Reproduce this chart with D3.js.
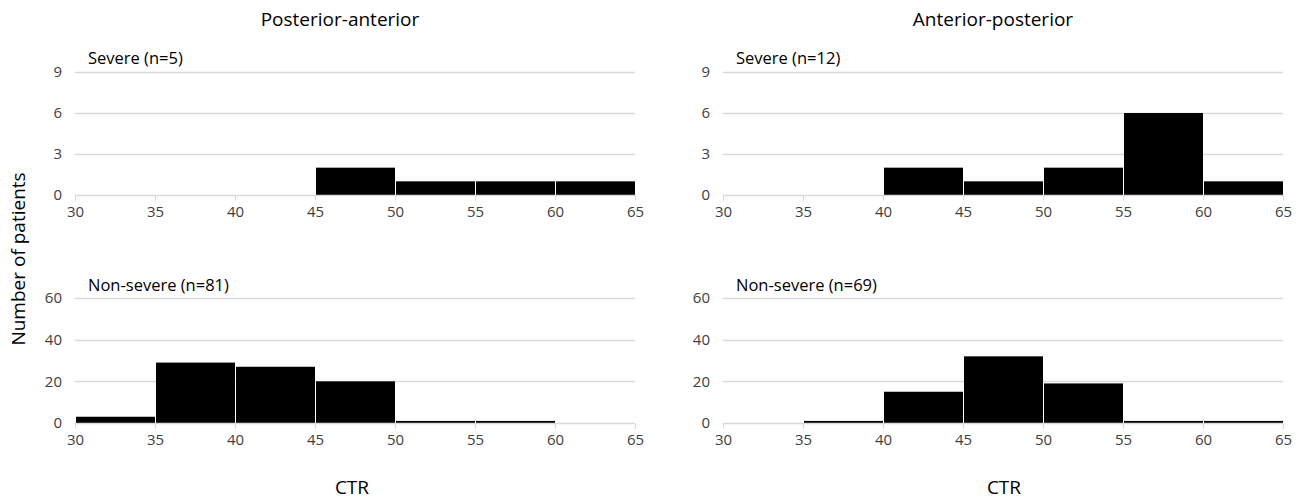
<!DOCTYPE html>
<html>
<head>
<meta charset="utf-8">
<script src="https://cdn.jsdelivr.net/npm/d3@7"></script>
<style>
  html, body { margin: 0; padding: 0; background: #fff; }
  svg { display: block; font-family: "Open Sans", "Noto Sans", sans-serif; }
</style>
</head>
<body>
<svg id="chart" width="1301" height="500"></svg>
<script>
// CTR bins (5-unit wide) and counts of patients per bin
const binEdges = [30, 35, 40, 45, 50, 55, 60, 65];
const xTicks = [30, 35, 40, 45, 50, 55, 60, 65];

const paSevere    = [0, 0, 0, 2, 1, 1, 1];
const paNonSevere = [3, 29, 27, 20, 1, 1, 0];
const apSevere    = [0, 0, 2, 1, 2, 6, 1];
const apNonSevere = [0, 1, 15, 32, 19, 1, 1];

const severeTicks = [0, 3, 6, 9];
const nonSevereTicks = [0, 20, 40, 60];

const columnTitles = ["Posterior-anterior", "Anterior-posterior"];
const panelLabels = [
  ["Severe (n=5)", "Non-severe (n=81)"],
  ["Severe (n=12)", "Non-severe (n=69)"]
];

const svg = d3.select("#chart");
const fontStack = "\"Open Sans\", \"Noto Sans\", sans-serif";

const columns = [
  { x0: 75, x1: 635, title: columnTitles[0], titleX: 340, ctrX: 352, severe: paSevere, nonSevere: paNonSevere, labels: panelLabels[0] },
  { x0: 723, x1: 1283, title: columnTitles[1], titleX: 993, ctrX: 1004, severe: apSevere, nonSevere: apNonSevere, labels: panelLabels[1] }
];

const rows = [
  { key: "severe", yTop: 72, yBottom: 195, max: 9, ticks: severeTicks, labelY: 64, labelIdx: 0 },
  { key: "nonSevere", yTop: 298, yBottom: 423, max: 60, ticks: nonSevereTicks, labelY: 291, labelIdx: 1 }
];

const gridColor = "#d9d9d9";
const tickText = "#404040";

columns.forEach(col => {
  const x = d3.scaleLinear().domain([30, 65]).range([col.x0, col.x1]);

  // column title
  svg.append("text")
    .attr("x", col.titleX).attr("y", 26)
    .attr("text-anchor", "middle")
    .attr("font-size", 19).attr("fill", "#000")
    .text(col.title);

  // x-axis title
  svg.append("text")
    .attr("x", col.ctrX).attr("y", 494)
    .attr("text-anchor", "middle")
    .attr("font-size", 19).attr("fill", "#000")
    .text("CTR");

  rows.forEach(row => {
    const y = d3.scaleLinear().domain([0, row.max]).range([row.yBottom, row.yTop]);
    const counts = col[row.key];
    const g = svg.append("g");

    // horizontal gridlines
    g.selectAll("line.grid")
      .data(row.ticks.filter(t => t > 0))
      .join("line")
      .attr("class", "grid")
      .attr("x1", col.x0).attr("x2", col.x1)
      .attr("y1", d => Math.round(y(d)) + 0.5).attr("y2", d => Math.round(y(d)) + 0.5)
      .attr("stroke", gridColor).attr("stroke-width", 1.5);

    // y axis labels
    const yAxis = d3.axisLeft(y).tickValues(row.ticks).tickSize(0).tickPadding(13);
    const ya = g.append("g").attr("transform", `translate(${col.x0},0)`).call(yAxis);
    ya.select(".domain").remove();
    ya.selectAll("text").attr("font-size", 15).attr("fill", tickText)
      .attr("font-family", fontStack);

    // histogram bars, separated by a 1px white gap
    const bins = counts.map((c, i) => ({ x0: binEdges[i], x1: binEdges[i + 1], c }));
    g.selectAll("rect.bar")
      .data(bins.filter(b => b.c > 0))
      .join("rect")
      .attr("class", "bar")
      .attr("x", d => Math.round(x(d.x0)) + 1)
      .attr("width", d => Math.round(x(d.x1)) - Math.round(x(d.x0)) - 1)
      .attr("y", d => y(d.c))
      .attr("height", d => y(0) - y(d.c))
      .attr("fill", "#000");

    // x axis line with outward ticks
    const xAxis = d3.axisBottom(x).tickValues(xTicks).tickSize(5).tickPadding(6)
      .tickFormat(d3.format("d"));
    const xa = g.append("g").attr("transform", `translate(0,${Math.round(y(0)) + 0.5})`).call(xAxis);
    xa.select(".domain").attr("stroke", gridColor).attr("stroke-width", 1.5)
      .attr("d", `M${col.x0},0H${col.x1}`);
    xa.selectAll(".tick line").attr("stroke", gridColor).attr("stroke-width", 1.2);
    xa.selectAll("text").attr("font-size", 15).attr("fill", tickText)
      .attr("font-family", fontStack);

    // panel label
    svg.append("text")
      .attr("x", col.x0 + 13).attr("y", row.labelY)
      .attr("font-size", 16.5).attr("fill", "#000")
      .text(col.labels[row.labelIdx]);
  });
});

// shared y-axis title
svg.append("text")
  .attr("transform", "translate(25,259) rotate(-90)")
  .attr("text-anchor", "middle")
  .attr("font-size", 19).attr("fill", "#000")
  .text("Number of patients");
</script>
</body>
</html>
